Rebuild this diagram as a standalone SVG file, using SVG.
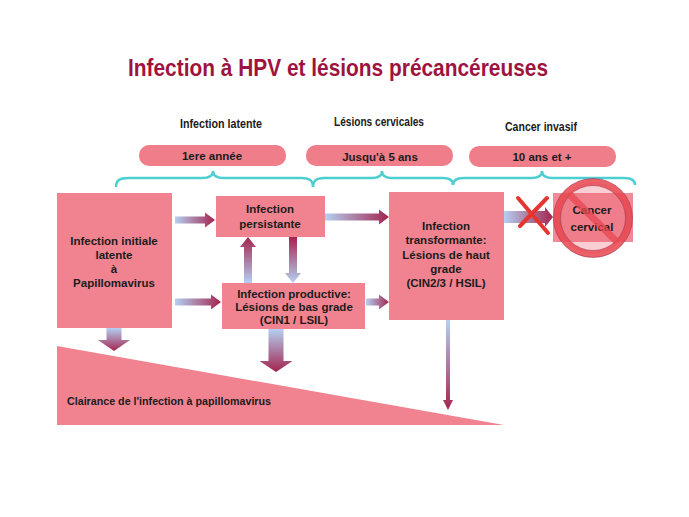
<svg xmlns="http://www.w3.org/2000/svg" width="689" height="517" viewBox="0 0 689 517">
<defs>
<linearGradient id="gR" x1="0" y1="0" x2="1" y2="0"><stop offset="0" stop-color="#b4d0f2"/><stop offset="1" stop-color="#a3244f"/></linearGradient>
<linearGradient id="gD" x1="0" y1="0" x2="0" y2="1"><stop offset="0" stop-color="#b4d0f2"/><stop offset="1" stop-color="#a3244f"/></linearGradient>
<linearGradient id="gU" x1="0" y1="1" x2="0" y2="0"><stop offset="0" stop-color="#b4d0f2"/><stop offset="1" stop-color="#a3244f"/></linearGradient>
<style>
.box{fill:#f0838f}
.pill{fill:#ef7d8a}
.t{font-family:"Liberation Sans",Arial,sans-serif;font-weight:bold;font-size:11.5px;fill:#1c1c1c;text-anchor:middle}
.h{font-family:"Liberation Sans",Arial,sans-serif;font-weight:bold;font-size:12.5px;fill:#1c1c1c;text-anchor:middle}
.brace{fill:none;stroke:#4dcfd2;stroke-width:2.5}
</style>
</defs>
<rect width="689" height="517" fill="#ffffff"/>
<text x="338" y="76" font-family="'Liberation Sans',Arial,sans-serif" font-weight="bold" font-size="24" fill="#9e1340" text-anchor="middle" textLength="420" lengthAdjust="spacingAndGlyphs">Infection à HPV et lésions précancéreuses</text>

<g id="headers">
<text class="h" x="221" y="128" textLength="82" lengthAdjust="spacingAndGlyphs">Infection latente</text>
<text class="h" x="379" y="126" textLength="90" lengthAdjust="spacingAndGlyphs">Lésions cervicales</text>
<text class="h" x="541" y="131" font-weight="normal" fill="#333" textLength="72" lengthAdjust="spacingAndGlyphs">Cancer invasif</text>
</g>

<g id="pill1"><rect class="pill" x="139" y="145" width="147" height="21" rx="10"/><text class="t" x="212" y="160">1ere année</text></g>
<g id="pill2"><rect class="pill" x="306" y="145" width="147" height="21" rx="10"/><text class="t" x="380" y="161">Jusqu'à 5 ans</text></g>
<g id="pill3"><rect class="pill" x="469" y="146" width="147" height="21" rx="10"/><text class="t" x="542" y="161">10 ans et  +</text></g>

<g id="braces">
<path class="brace" d="M116,187 C116,180 120,178 128,178 L202,178 C209,178 213,176 213,171 C213,176 217,178 224,178 L302,178 C309,178 313,180 313,187"/>
<path class="brace" d="M313,187 C313,180 317,178 324,178 L372,178 C379,178 382,176 382,171 C382,176 385,178 392,178 L443,178 C450,178 453,180 453,185"/>
<path class="brace" d="M453,185 C453,180 457,178 464,178 L531,178 C538,178 542,176 542,171 C542,176 546,178 553,178 L624,178 C631,178 635,180 635,185"/>
</g>

<g id="clairance">
<polygon class="box" points="57,346 57,425 504,425"/>
<text class="t" x="67" y="405" style="text-anchor:start" textLength="204" lengthAdjust="spacingAndGlyphs">Clairance de l'infection à papillomavirus</text>
</g>

<g id="initiale">
<rect class="box" x="57" y="193" width="115" height="135"/>
<text class="t" x="114" y="245">Infection initiale</text>
<text class="t" x="114" y="259">latente</text>
<text class="t" x="114" y="273">à</text>
<text class="t" x="114" y="287">Papillomavirus</text>
</g>

<g id="persistante">
<rect class="box" x="216" y="196" width="109" height="41"/>
<text class="t" x="270" y="213">Infection</text>
<text class="t" x="270" y="228">persistante</text>
</g>

<g id="productive">
<rect class="box" x="222" y="283" width="143" height="46"/>
<text class="t" x="294" y="298">Infection productive:</text>
<text class="t" x="294" y="311">Lésions de bas grade</text>
<text class="t" x="294" y="324">(CIN1 / LSIL)</text>
</g>

<g id="transformante">
<rect class="box" x="389" y="192" width="115" height="128"/>
<text class="t" x="446" y="230">Infection</text>
<text class="t" x="446" y="244">transformante:</text>
<text class="t" x="446" y="259">Lésions de haut</text>
<text class="t" x="446" y="273">grade</text>
<text class="t" x="446" y="287">(CIN2/3 / HSIL)</text>
</g>

<g id="connectors">
<polygon fill="url(#gR)" points="175,216.5 205,216.5 205,212.5 215,220 205,227.5 205,223.5 175,223.5"/>
<polygon fill="url(#gR)" points="175,298.5 211,298.5 211,294.5 221,302 211,309.5 211,305.5 175,305.5"/>
<polygon fill="url(#gR)" points="325,213.5 379,213.5 379,209.5 389,217 379,224.5 379,220.5 325,220.5"/>
<polygon fill="url(#gR)" points="366,298.5 379,298.5 379,294.5 389,302 379,309.5 379,305.5 366,305.5"/>
<polygon fill="url(#gU)" points="244,283 244,247 240,247 248,237 256,247 252,247 252,283"/>
<polygon fill="url(#gU)" points="289,237 289,273 285,273 293,283 301,273 297,273 297,237"/>
<polygon fill="url(#gD)" points="106.5,328 106.5,340 98,340 114,351 130,340 121.5,340 121.5,328"/>
<polygon fill="url(#gD)" points="268.5,329 268.5,361 259.5,361 276,372 292.5,361 283.5,361 283.5,329"/>
<polygon fill="url(#gD)" points="446,320 446,400 443,400 448,410 453,400 450,400 450,320"/>
<polygon fill="url(#gR)" points="504,211 545,211 545,207 553,217 545,227 545,223 504,223"/>
<g stroke="#e6352f" stroke-width="4" stroke-linecap="round">
<line x1="518" y1="198" x2="548" y2="233"/>
<line x1="547" y1="198" x2="520" y2="226"/>
</g>
</g>

<g id="cancer">
<rect x="553" y="193" width="80" height="49" fill="#f08a96"/>
<circle cx="593" cy="218" r="36" fill="#f06070" fill-opacity="0.3" stroke="#e8474f" stroke-width="7" stroke-opacity="0.85"/>
<circle cx="593" cy="218" r="39.5" fill="none" stroke="#9a3a50" stroke-width="0.8" stroke-opacity="0.7"/>
<circle cx="593" cy="218" r="32.5" fill="none" stroke="#9a3a50" stroke-width="0.8" stroke-opacity="0.7"/>
<text class="t" x="592" y="214">Cancer</text>
<text class="t" x="592" y="231">cervical</text>
<line x1="569" y1="194" x2="617" y2="242" stroke="#e8474f" stroke-width="7" stroke-opacity="0.75"/>
</g>
</svg>
